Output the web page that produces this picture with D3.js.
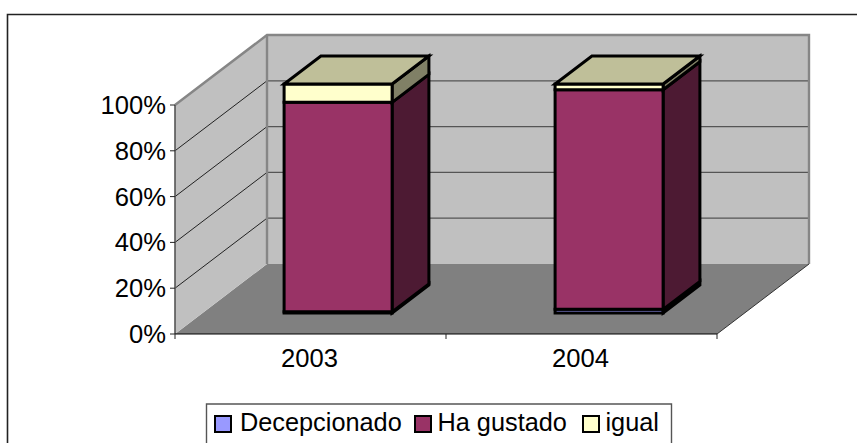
<!DOCTYPE html>
<html><head><meta charset="utf-8">
<script src="https://cdn.jsdelivr.net/npm/d3@7"></script>
<style>html,body{margin:0;padding:0;background:#fff}svg{display:block}text{font-family:"Liberation Sans",Arial,sans-serif;fill:#000}</style>
</head><body><svg id="c" width="857" height="443"></svg>
<script>
const categories = ["2003", "2004"];
const seriesNames = ["Decepcionado", "Ha gustado", "igual"];
const decepcionado = [0.5, 1.6];
const haGustado = [91.5, 95.9];
const igual = [8, 2.5];
const yTicks = [0, 20, 40, 60, 80, 100];
const fills = ["#9999FF", "#993366", "#FFFFCC"];
const tops = ["#4D4D80", "#4D1A33", "#BFBF99"];
const sides = ["#33334D", "#4D1A33", "#808066"];

const svg = d3.select("#c");
const x = d3.scaleBand().domain(categories).range([175, 717]);
const y = d3.scaleLinear().domain([0, 100]).range([334, 105]);
const depth = {dx: 92, dy: -70};
const barWidth = 108;
const near = 0.3, far = 0.7;
const P = (px, py, d) => [px + depth.dx * d, py + depth.dy * d];
const line = d3.line();
const poly = (pts, fill, stroke, sw) => svg.append("path")
  .attr("d", line(pts) + "Z").attr("fill", fill)
  .attr("stroke", stroke || "none").attr("stroke-width", sw || 0)
  .attr("stroke-linejoin", "miter");

// chart frame (clipped by the window on the right and bottom)
svg.append("path").attr("d", "M7.5,443V14.5H857").attr("fill", "none").attr("stroke", "#222").attr("stroke-width", 1.6);

const [xl, xr] = x.range(), y0 = y(0), y1 = y(100);
// floor
poly([[xl, y0], [xr, y0], P(xr, y0, 1), P(xl, y0, 1)], "#808080");
// back wall and side wall
poly([P(xl, y1, 1), P(xr, y1, 1), P(xr, y0, 1), P(xl, y0, 1)], "#C0C0C0");
poly([[xl, y1], P(xl, y1, 1), P(xl, y0, 1), [xl, y0]], "#C0C0C0");
// gridlines
yTicks.slice(1, -1).forEach(t => {
  svg.append("path").attr("d", line([[xl, y(t)], P(xl, y(t), 1)]))
    .attr("fill", "none").attr("stroke", "#222").attr("stroke-width", 1);
  svg.append("path").attr("d", line([P(xl, y(t), 1), P(xr, y(t), 1)]))
    .attr("fill", "none").attr("stroke", "#555").attr("stroke-width", 1.3);
});
// wall borders
svg.append("path").attr("d", line([[xl, y1], P(xl, y1, 1), P(xr, y1, 1), P(xr, y0, 1)]))
  .attr("fill", "none").attr("stroke", "#868686").attr("stroke-width", 2.4);
svg.append("path").attr("d", line([P(xl, y1, 1), P(xl, y0, 1)]))
  .attr("fill", "none").attr("stroke", "#868686").attr("stroke-width", 2.4);
svg.append("path").attr("d", line([P(xr, y0, 1), [xr, y0]]))
  .attr("fill", "none").attr("stroke", "#333").attr("stroke-width", 1);

// axes
svg.append("path").attr("d", line([[xl, y1], [xl, y0]])).attr("stroke", "#555").attr("stroke-width", 1.6).attr("fill", "none");
svg.append("path").attr("d", line([[xl, y0], [xr, y0]])).attr("stroke", "#000").attr("stroke-width", 1.2).attr("fill", "none");
yTicks.forEach(t => {
  svg.append("line").attr("x1", xl - 5).attr("x2", xl).attr("y1", y(t)).attr("y2", y(t)).attr("stroke", "#222").attr("stroke-width", 1);
  svg.append("text").attr("x", 166).attr("y", y(t) + 9).attr("text-anchor", "end").attr("font-size", 25.6).text(t + "%");
});
[xl, xl + x.bandwidth(), xr].forEach(v => {
  svg.append("line").attr("x1", v).attr("x2", v).attr("y1", y0).attr("y2", y0 + 5).attr("stroke", "#222").attr("stroke-width", 1);
});
categories.forEach(c => {
  svg.append("text").attr("x", x(c) + x.bandwidth() / 2 - 1).attr("y", 367).attr("text-anchor", "middle").attr("font-size", 25.6).text(c);
});

// stacked 3-D bars
const values = [decepcionado, haGustado, igual];
categories.forEach((c, i) => {
  const xa = x(c) + (x.bandwidth() - barWidth) / 2, xb = xa + barWidth;
  let acc = 0;
  values.forEach((v, s) => {
    const a = acc, b = acc + v[i];
    acc = b;
    const ya = y(a), yb = y(b);
    poly([P(xb, ya, near), P(xb, ya, far), P(xb, yb, far), P(xb, yb, near)], sides[s], "#000", 3);
    poly([P(xa, ya, near), P(xb, ya, near), P(xb, yb, near), P(xa, yb, near)], fills[s], "#000", 3);
    if (s === values.length - 1) {
      poly([P(xa, yb, near), P(xb, yb, near), P(xb, yb, far), P(xa, yb, far)], tops[s], "#000", 3);
    }
  });
});

// legend
svg.append("path").attr("d", "M206.5,443V404H671.5V443").attr("fill", "none").attr("stroke", "#555").attr("stroke-width", 1.4);
const legendX = [214, 414, 582];
const legendTextX = [240, 437.5, 605.5];
seriesNames.forEach((n, i) => {
  svg.append("rect").attr("x", legendX[i] + 1).attr("y", 416).attr("width", 16).attr("height", 16)
    .attr("fill", fills[i]).attr("stroke", "#000").attr("stroke-width", 2);
  svg.append("text").attr("x", legendTextX[i]).attr("y", 431).attr("font-size", 25.3).text(n);
});
</script></body></html>
